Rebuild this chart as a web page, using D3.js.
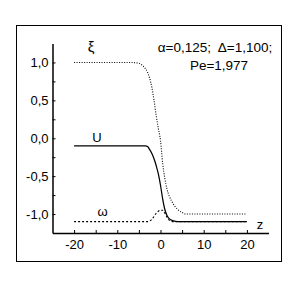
<!DOCTYPE html>
<html>
<head>
<meta charset="utf-8">
<script src="https://cdn.jsdelivr.net/npm/d3@7"></script>
<style>
  body { margin: 0; background: #fff; }
  svg text { font-family: Arial, "Liberation Sans", sans-serif; fill: #000; }
</style>
</head>
<body>
<div id="chart"></div>
<script>
// data
var xiZ   = [-20, -7, -5, -4, -3, -2.5, -2, -1.5, -1, -0.5, 0, 0.5, 1, 1.5, 2, 2.5, 3, 4, 5, 6, 20];
var xiVal = [1.0, 1.0, 0.99, 0.95, 0.87, 0.79, 0.67, 0.5, 0.3, 0.13, -0.03, -0.33, -0.53, -0.67, -0.76, -0.82, -0.87, -0.94, -0.98, -1.0, -1.0];
var uZ    = [-20, -3.5, -3, -2.5, -2, -1.5, -1, -0.5, 0, 0.5, 1, 1.5, 2, 3, 4, 20];
var uVal  = [-0.1, -0.1, -0.11, -0.15, -0.2, -0.27, -0.36, -0.47, -0.62, -0.8, -0.94, -1.02, -1.06, -1.09, -1.1, -1.1];
var wZ    = [-20, -3, -2, -1, 0, 0.5, 1, 1.5, 2, 3, 20];
var wVal  = [-1.1, -1.1, -1.07, -0.99, -0.95, -0.95, -0.99, -1.04, -1.08, -1.1, -1.1];
var xTicks = [-20, -10, 0, 10, 20];
var xMinor = [-15, -5, 5, 15];
var yTicks = [-1, -0.5, 0, 0.5, 1];
var yMinor = [-0.75, -0.25, 0.25, 0.75];

var svgWidth = 304, svgHeight = 281;
var svg = d3.select("#chart").append("svg")
  .attr("width", svgWidth)
  .attr("height", svgHeight);

// outer frame
svg.append("rect")
  .attr("x", 16.5).attr("y", 25.5)
  .attr("width", 265).attr("height", 236)
  .attr("fill", "none").attr("stroke", "#000").attr("stroke-width", 1);

var x = d3.scaleLinear().domain([-25, 25]).range([52.5, 268.5]);
var y = d3.scaleLinear().domain([-1.25, 1.25]).range([233, 43.5]);

function fmt(v) {
  return (v < 0 ? "-" : "") + Math.abs(v).toFixed(1).replace(".", ",");
}

var xAxis = svg.append("g")
  .attr("transform", "translate(0," + y(-1.25) + ")")
  .call(d3.axisBottom(x).tickValues(xTicks.concat(xMinor)).tickSizeInner(-3).tickSizeOuter(0).tickPadding(7)
    .tickFormat(d => xTicks.indexOf(d) >= 0 ? (d < 0 ? "-" + Math.abs(d) : d) : ""));
var yAxis = svg.append("g")
  .attr("transform", "translate(" + x(-25) + ",0)")
  .call(d3.axisLeft(y).tickValues(yTicks.concat(yMinor)).tickSizeInner(-3).tickSizeOuter(0).tickPadding(4)
    .tickFormat(d => yTicks.indexOf(d) >= 0 ? fmt(d) : ""));

svg.selectAll(".domain").attr("stroke", "#000").attr("stroke-width", 1.5);
svg.selectAll(".tick line").attr("stroke", "#000").attr("stroke-width", 1);
svg.selectAll(".tick text").attr("font-size", "13px").attr("font-family", "Arial, 'Liberation Sans', sans-serif").attr("fill", "#000");

var line = d3.line()
  .x(d => x(d[0]))
  .y(d => y(d[1]))
  .curve(d3.curveMonotoneX);

var xiData = xiZ.map((z, i) => [z, xiVal[i]]);
var uData = uZ.map((z, i) => [z, uVal[i]]);
var wData = wZ.map((z, i) => [z, wVal[i]]);

svg.append("path").datum(xiData)
  .attr("d", line).attr("fill", "none")
  .attr("stroke", "#000").attr("stroke-width", 1.1).attr("stroke-dasharray", "1,1.5");
svg.append("path").datum(wData)
  .attr("d", line).attr("fill", "none")
  .attr("stroke", "#000").attr("stroke-width", 1.1).attr("stroke-dasharray", "2,2");
svg.append("path").datum(uData)
  .attr("d", line).attr("fill", "none")
  .attr("stroke", "#000").attr("stroke-width", 1.25);

// curve labels
svg.append("text").attr("x", 91).attr("y", 52).attr("text-anchor", "middle").attr("font-size", "15px").text("ξ");
svg.append("text").attr("x", 97).attr("y", 141.5).attr("text-anchor", "middle").attr("font-size", "13px").text("U");
svg.append("text").attr("x", 102.5).attr("y", 216).attr("text-anchor", "middle").attr("font-size", "13px").text("ω");
svg.append("text").attr("x", 260).attr("y", 229).attr("text-anchor", "middle").attr("font-size", "13px").text("z");

// parameters
svg.append("text").attr("x", 215).attr("y", 51.5).attr("text-anchor", "middle").attr("font-size", "13.5px")
  .attr("xml:space", "preserve").style("white-space", "pre").text("α=0,125;  Δ=1,100;");
svg.append("text").attr("x", 219).attr("y", 69.5).attr("text-anchor", "middle").attr("font-size", "13.5px").text("Pe=1,977");
</script>
</body>
</html>
